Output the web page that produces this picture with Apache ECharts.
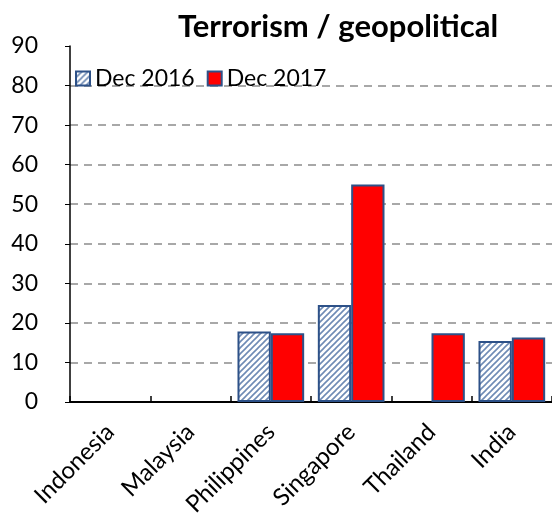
<!DOCTYPE html>
<html>
<head>
<meta charset="utf-8">
<script src="https://cdn.jsdelivr.net/npm/echarts@6/dist/echarts.min.js"></script>
<style>
html,body{margin:0;padding:0;background:#fff;}
#chart{width:552px;height:515px;}
</style>
</head>
<body>
<div id="chart"></div>
<script>
// Survey share citing terrorism / geopolitical risk, by market
const categories = ['Indonesia', 'Malaysia', 'Philippines', 'Singapore', 'Thailand', 'India'];
const dec2016 = [null, null, 17.8, 24.5, null, 15.4];
const dec2017 = [null, null, 17.4, 55, 17.4, 16.3];
const yTicks = [0, 10, 20, 30, 40, 50, 60, 70, 80, 90];

// Diagonal hatch fill for the earlier series
function hatch() {
  const c = document.createElement('canvas');
  c.width = 6; c.height = 6;
  const g = c.getContext('2d');
  g.fillStyle = '#ffffff';
  g.fillRect(0, 0, 6, 6);
  g.strokeStyle = '#6f8bb5';
  g.lineWidth = 1.6;
  g.beginPath();
  g.moveTo(-1, 7); g.lineTo(7, -1);
  g.moveTo(-4, 4); g.lineTo(4, -4);
  g.moveTo(2, 10); g.lineTo(10, 2);
  g.stroke();
  return c;
}

const chart = echarts.init(document.getElementById('chart'));
const font = 'Lato, "Open Sans", sans-serif';
const gridColors = yTicks.map((v, i) => (i === 0 || i === yTicks.length - 1) ? 'transparent' : '#8c8c8c');

chart.setOption({
  animation: false,
  title: {
    text: 'Terrorism / geopolitical',
    left: 333, top: 6, textAlign: 'center',
    textStyle: { fontFamily: font, fontWeight: 'bold', fontSize: 31, color: '#000' }
  },
  legend: {
    left: 70, top: 62,
    icon: 'rect',
    itemWidth: 14, itemHeight: 14, itemGap: 12,
    textStyle: { fontFamily: font, fontSize: 23, color: '#000', padding: [0, 0, 0, 0] },
    data: ['Dec 2016', 'Dec 2017']
  },
  grid: { left: 70, right: 0, top: 46, bottom: 113, containLabel: false, outerBoundsMode: 'none' },
  xAxis: {
    type: 'category',
    data: categories,
    axisLine: { lineStyle: { color: '#000', width: 2 } },
    axisTick: { show: true, inside: true, length: 6, lineStyle: { color: '#000', width: 1.5 } },
    axisLabel: { rotate: 45, fontFamily: font, fontSize: 24, color: '#000', margin: 26, interval: 0 }
  },
  yAxis: {
    type: 'value',
    min: 0, max: 90, interval: 10,
    axisLine: { show: true, lineStyle: { color: '#000', width: 1.5 } },
    axisTick: { show: true, length: 5, lineStyle: { color: '#000' } },
    axisLabel: { fontFamily: font, fontSize: 23, color: '#000', margin: 32 },
    splitLine: { show: true, lineStyle: { type: [8, 6], width: 1.5, color: gridColors } }
  },
  series: [
    {
      name: 'Dec 2016', type: 'bar', data: dec2016,
      barGap: '0%', barCategoryGap: '17%',
      itemStyle: { color: { image: hatch(), repeat: 'repeat' }, borderColor: '#2d5188', borderWidth: 2 }
    },
    {
      name: 'Dec 2017', type: 'bar', data: dec2017,
      barGap: '0%', barCategoryGap: '17%',
      itemStyle: { color: '#ff0000', borderColor: '#2d5188', borderWidth: 2 }
    }
  ]
});
</script>
</body>
</html>
